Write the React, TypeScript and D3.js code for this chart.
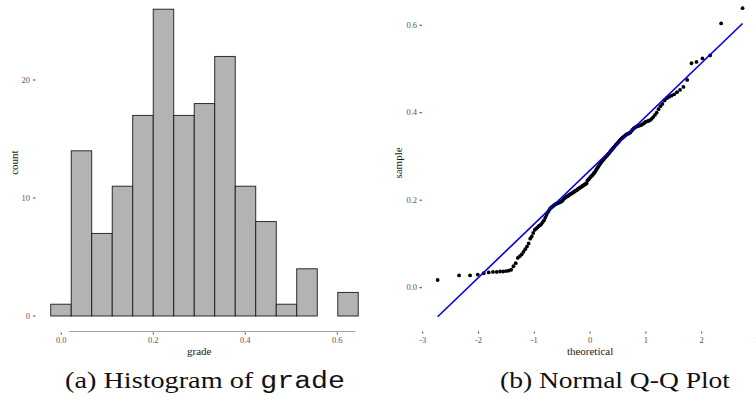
import React from 'react';
import * as d3 from 'd3';

// histogram of grade: counts per bin (15 bins)
const histCounts = [1, 14, 7, 11, 17, 26, 17, 18, 22, 11, 8, 1, 4, 0, 2];
const binStart = -0.023;
const binWidth = 0.04457;
const histXTicks = [0, 0.2, 0.4, 0.6];
const histYTicks = [0, 10, 20];

// sorted grade values
const sampleValues = [
  0.0176,
  0.028, 0.028, 0.030, 0.033, 0.035, 0.036, 0.036, 0.037, 0.037, 0.038, 0.039, 0.041, 0.049, 0.056,
  0.068, 0.072, 0.076, 0.082, 0.088, 0.094, 0.101,
  0.112, 0.117, 0.125, 0.132, 0.135, 0.138, 0.141, 0.143, 0.146, 0.150, 0.154,
  0.160, 0.166, 0.172, 0.176, 0.180, 0.183, 0.185, 0.187, 0.189, 0.191, 0.192, 0.193, 0.194, 0.195, 0.196, 0.198, 0.199,
  0.203, 0.205, 0.206, 0.208, 0.209, 0.211, 0.212, 0.214, 0.215, 0.216, 0.218, 0.219, 0.221, 0.222, 0.223, 0.225,
  0.226, 0.228, 0.229, 0.230, 0.232, 0.233, 0.235, 0.236, 0.237, 0.239,
  0.245, 0.247, 0.249, 0.252, 0.254, 0.256, 0.258, 0.261, 0.263, 0.266, 0.270, 0.273, 0.276, 0.279, 0.282, 0.285, 0.288,
  0.290, 0.293, 0.295, 0.298, 0.300, 0.302, 0.305, 0.307, 0.310, 0.313, 0.315, 0.318, 0.320, 0.323, 0.326, 0.328, 0.331, 0.333,
  0.336, 0.339, 0.341, 0.343, 0.345, 0.347, 0.349, 0.351, 0.352, 0.353, 0.355, 0.358, 0.361, 0.364, 0.366, 0.368,
  0.369, 0.370, 0.371, 0.372, 0.374, 0.376,
  0.379, 0.380, 0.381, 0.383, 0.386, 0.390, 0.395, 0.400, 0.408, 0.415, 0.420,
  0.428, 0.433, 0.436, 0.439, 0.442, 0.447, 0.452, 0.459,
  0.475,
  0.513, 0.516, 0.524, 0.531,
  0.604, 0.639,
];
const qqXTicks = [-3, -2, -1, 0, 1, 2, 3];
const qqYTicks = [0, 0.2, 0.4, 0.6];

// inverse normal CDF (Acklam's approximation)
function qnorm(p: number): number {
  const a = [-39.69683028665376, 220.9460984245205, -275.9285104469687, 138.357751867269, -30.66479806614716, 2.506628277459239];
  const b = [-54.47609879822406, 161.5858368580409, -155.6989798598866, 66.80131188771972, -13.28068155288572];
  const c = [-0.007784894002430293, -0.3223964580411365, -2.400758277161838, -2.549732539343734, 4.374664141464968, 2.938163982698783];
  const d = [0.007784695709041462, 0.3224671290700398, 2.445134137142996, 3.754408661907416];
  const plow = 0.02425;
  if (p < plow) {
    const q = Math.sqrt(-2 * Math.log(p));
    return (((((c[0] * q + c[1]) * q + c[2]) * q + c[3]) * q + c[4]) * q + c[5]) /
      ((((d[0] * q + d[1]) * q + d[2]) * q + d[3]) * q + 1);
  }
  if (p > 1 - plow) {
    const q = Math.sqrt(-2 * Math.log(1 - p));
    return -(((((c[0] * q + c[1]) * q + c[2]) * q + c[3]) * q + c[4]) * q + c[5]) /
      ((((d[0] * q + d[1]) * q + d[2]) * q + d[3]) * q + 1);
  }
  const q = p - 0.5;
  const r = q * q;
  return (((((a[0] * r + a[1]) * r + a[2]) * r + a[3]) * r + a[4]) * r + a[5]) * q /
    (((((b[0] * r + b[1]) * r + b[2]) * r + b[3]) * r + b[4]) * r + 1);
}

const tickFont = '"Liberation Serif", "Times New Roman", serif';
const tickColor = '#555';

const Histogram = () => {
  const x = d3.scaleLinear().domain([0, 0.6]).range([61.3, 337.3]);
  const y = d3.scaleLinear().domain([0, 20]).range([316, 80]);
  const [lo, hi] = d3.extent(sampleValues) as [number, number];
  const axisY = 331.5;
  return (
    <g>
      {histCounts.map((c, i) => {
        const x0 = x(binStart + i * binWidth);
        const x1 = x(binStart + (i + 1) * binWidth);
        return (
          <rect key={i} x={x0} y={y(c)} width={x1 - x0} height={y(0) - y(c)}
            fill="#b3b3b3" stroke="#1a1a1a" strokeWidth={0.9} />
        );
      })}
      {histYTicks.map(t => (
        <g key={t} transform={`translate(0,${y(t)})`}>
          <line x1={33} x2={35.5} stroke="#333" strokeWidth={0.9} />
          <text x={30} dy="0.32em" textAnchor="end" fontSize={8.5} fill={tickColor} fontFamily={tickFont}>{t}</text>
        </g>
      ))}
      <line x1={x(lo)} x2={x(hi)} y1={axisY} y2={axisY} stroke="#8c8c8c" strokeWidth={0.8} />
      {histXTicks.map(t => (
        <g key={t} transform={`translate(${x(t)},0)`}>
          <line y1={332.5} y2={334.5} stroke="#333" strokeWidth={0.9} />
          <text y={343} textAnchor="middle" fontSize={8.5} fill={tickColor} fontFamily={tickFont}>{t.toFixed(1)}</text>
        </g>
      ))}
      <text x={x(0.3)} y={355} textAnchor="middle" fontSize={11} fill="#1a1a1a" fontFamily={tickFont}>grade</text>
      <text transform={`translate(17.5,${(y(0) + y(26)) / 2}) rotate(-90)`} textAnchor="middle" fontSize={11}
        fill="#1a1a1a" fontFamily={tickFont}>count</text>
    </g>
  );
};

const QQPlot = () => {
  const x = d3.scaleLinear().domain([-3, 3]).range([422.7, 757.5]);
  const y = d3.scaleLinear().domain([0, 0.6]).range([287.7, 25.2]);
  const n = sampleValues.length;
  const sorted = [...sampleValues].sort((a, b) => a - b);
  const pts = sorted.map((v, i) => ({ t: qnorm((i + 0.5) / n), s: v }));
  // reference line through the quartiles
  const q1 = d3.quantile(sorted, 0.25) as number;
  const q3 = d3.quantile(sorted, 0.75) as number;
  const z1 = qnorm(0.25);
  const z3 = qnorm(0.75);
  const slope = (q3 - q1) / (z3 - z1);
  const icpt = q1 - slope * z1;
  const tMin = pts[0].t;
  const tMax = pts[n - 1].t;
  return (
    <g>
      {qqYTicks.map(t => (
        <g key={t} transform={`translate(0,${y(t)})`}>
          <line x1={419.5} x2={422} stroke="#333" strokeWidth={0.9} />
          <text x={417} dy="0.32em" textAnchor="end" fontSize={8.5} fill={tickColor} fontFamily={tickFont}>{t.toFixed(1)}</text>
        </g>
      ))}
      {qqXTicks.map(t => (
        <g key={t} transform={`translate(${x(t)},0)`}>
          <line y1={331.5} y2={333.5} stroke="#333" strokeWidth={0.9} />
          <text y={342.5} textAnchor="middle" fontSize={8.5} fill={tickColor} fontFamily={tickFont}>{t}</text>
        </g>
      ))}
      {pts.map((d, i) => (
        <circle key={i} cx={x(d.t)} cy={y(d.s)} r={1.9} fill="#000" />
      ))}
      <line x1={x(tMin)} y1={y(icpt + slope * tMin)} x2={x(tMax)} y2={y(icpt + slope * tMax)}
        stroke="#0000ee" strokeWidth={1.6} />
      <text x={x(0)} y={355} textAnchor="middle" fontSize={11} fill="#1a1a1a" fontFamily={tickFont}>theoretical</text>
      <text transform={`translate(401.5,163) rotate(-90)`} textAnchor="middle" fontSize={11}
        fill="#1a1a1a" fontFamily={tickFont}>sample</text>
    </g>
  );
};

const App = () => {
  const capFont = '"Liberation Serif", "Times New Roman", serif';
  return (
    <svg width={756} height={404} style={{ position: 'absolute', left: 0, top: 0, background: '#fff' }}>
      <rect width={756} height={404} fill="#fff" />
      <Histogram />
      <QQPlot />
      <text x={65} y={388} fontSize={23} fill="#111" fontFamily={capFont}
        textLength={280} lengthAdjust="spacingAndGlyphs">
        (a) Histogram of <tspan fontFamily='"Liberation Mono", "DejaVu Sans Mono", monospace'>grade</tspan>
      </text>
      <text x={500} y={388} fontSize={23} fill="#111" fontFamily={capFont}
        textLength={230} lengthAdjust="spacingAndGlyphs">
        (b) Normal Q-Q Plot
      </text>
    </svg>
  );
};

export default App;
